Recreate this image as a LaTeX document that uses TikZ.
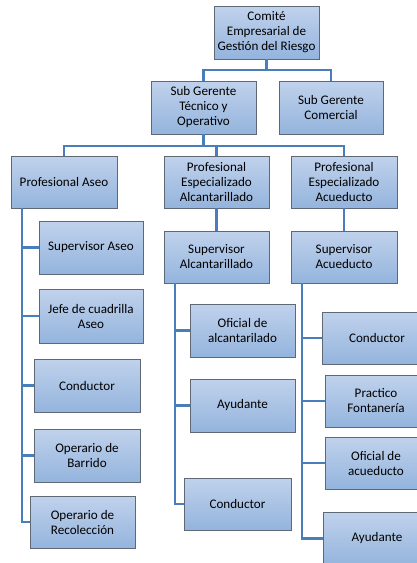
\documentclass[tikz,border=0pt]{standalone}
\usepackage{fontspec}
\setmainfont{Carlito}
\usetikzlibrary{shadows}
\definecolor{boxtop}{RGB}{192,210,236}
\definecolor{boxbot}{RGB}{148,180,221}
\definecolor{boxline}{RGB}{95,105,118}
\definecolor{wire}{RGB}{74,126,187}
\begin{document}
\begin{tikzpicture}[x=1pt,y=-1pt,
  orgbox/.style={draw=boxline, line width=0.9pt, top color=boxtop, bottom color=boxbot,
    minimum width=105pt, minimum height=53pt, align=center, inner sep=1pt,
    font=\fontsize{13.1}{15}\selectfont,
    drop shadow={shadow xshift=1.2pt, shadow yshift=-1.2pt, opacity=0.35, fill=black!60}},
  link/.style={draw=wire, line width=2.7pt}]
\useasboundingbox (0,0) rectangle (417,563);
\clip (0,0) rectangle (417,563);

% bus rows and spine columns
\coordinate (busA) at (0,70);
\coordinate (busB) at (0,146);
\coordinate (spineA) at (22,0);
\coordinate (spineB) at (175,0);
\coordinate (spineC) at (302,0);

% top levels
\node[orgbox] (comite) at (266.5,32.5) {Comité\\Empresarial de\\Gestión del Riesgo};
\node[orgbox] (sgt) at (203.5,107.5) {Sub Gerente\\Técnico y\\Operativo};
\node[orgbox, minimum width=104pt] (sgc) at (331,107.5) {Sub Gerente\\Comercial};

\node[orgbox, minimum width=106pt, minimum height=52pt] (pa) at (64,182) {Profesional Aseo};
\node[orgbox, minimum height=52pt] (pea) at (216.5,182) {Profesional\\Especializado\\Alcantarillado};
\node[orgbox, minimum width=106pt, minimum height=52pt] (peac) at (344,182) {Profesional\\Especializado\\Acueducto};

% aseo column
\node[orgbox, minimum width=104pt] (sa) at (91,247.5) {Supervisor Aseo};
\node[orgbox, minimum width=104pt, minimum height=54pt] (jefe) at (91,316) {Jefe de cuadrilla\\Aseo};
\node[orgbox, minimum width=106pt] (cond1) at (87,385.5) {Conductor};
\node[orgbox, minimum width=106pt] (ob) at (87,455.5) {Operario de\\Barrido};
\node[orgbox, minimum height=52pt] (orc) at (82.5,522) {Operario de\\Recolección};

% alcantarillado column
\node[orgbox, minimum height=52pt] (sal) at (216.5,257) {Supervisor\\Alcantarillado};
\node[orgbox] (oal) at (242.5,330.5) {Oficial de\\alcantarilado};
\node[orgbox] (ayal) at (242.5,405.5) {Ayudante};
\node[orgbox, minimum width=107pt, minimum height=52pt] (cond2) at (237.5,504) {Conductor};

% acueducto column
\node[orgbox, minimum width=106pt, minimum height=52pt] (sac) at (344,257) {Supervisor\\Acueducto};
\node[orgbox, minimum width=110pt, minimum height=52pt] (cond3) at (377,338) {Conductor};
\node[orgbox, minimum width=102pt, minimum height=52pt] (pf) at (376,401) {Practico\\Fontanería};
\node[orgbox, minimum width=102pt, minimum height=52pt] (oac) at (376,463) {Oficial de\\acueducto};
\node[orgbox, minimum width=108pt] (ayac) at (377,538.5) {Ayudante};

% connectors
\begin{scope}[link]
\draw (comite.south) -- (comite.south |- busA) -| (sgt.north);
\draw (comite.south |- busA) -| (sgc.north);
\draw (sgt.south) -- (sgt.south |- busB) -| (pa.north);
\draw (sgt.south |- busB) -| (pea.north);
\draw (sgt.south |- busB) -| (peac.north);
\draw (pea.south) -- (sal.north);
\draw (peac.south) -- (sac.north);
\draw (pa.south -| spineA) |- (orc.west);
\foreach \n in {sa,jefe,cond1,ob} \draw (spineA |- \n.west) -- (\n.west);
\draw (sal.south -| spineB) |- (cond2.west);
\foreach \n in {oal,ayal} \draw (spineB |- \n.west) -- (\n.west);
\draw (sac.south -| spineC) |- (ayac.west);
\foreach \n in {cond3,pf,oac} \draw (spineC |- \n.west) -- (\n.west);
\end{scope}
\end{tikzpicture}
\end{document}
